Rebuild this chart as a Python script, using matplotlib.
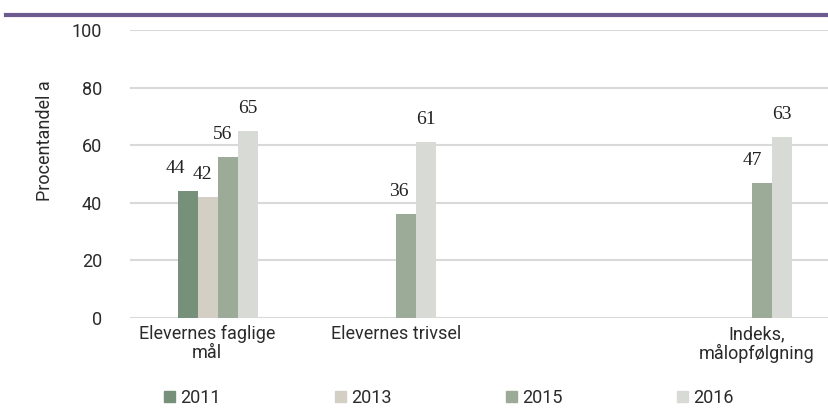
import numpy as np
import matplotlib.pyplot as plt
from matplotlib.patches import Patch
from matplotlib.transforms import ScaledTranslation

# data
categories = ['Elevernes faglige\nmål', 'Elevernes trivsel', '', 'Indeks,\nmålopfølgning']
years = ['2011', '2013', '2015', '2016']
v2011 = [44, None, None, None]
v2013 = [42, None, None, None]
v2015 = [56, 36, None, 47]
v2016 = [65, 61, None, 63]
series = [v2011, v2013, v2015, v2016]

colors = ['#76907a', '#d3cfc4', '#9cab97', '#d8dbd5']
# label nudges (pixels, left/right) to mimic hand-placed labels
nudge = {(0, 0): -13, (1, 0): -5, (2, 0): -5, (2, 1): -7, (2, 3): -10}
cat_shift = [-11, 0, 0, 5]

W, H = 829, 417
fig = plt.figure(figsize=(W / 100, H / 100), dpi=100)
ax = fig.add_axes([130 / W, (H - 318) / H, (W - 130) / W, 288 / H])

bw = 0.1124
x = np.arange(len(categories))
for i, (s, c) in enumerate(zip(series, colors)):
    for j, v in enumerate(s):
        if v is None:
            continue
        xc = x[j] + (i - 1.5) * bw
        ax.bar(xc, v, width=bw, color=c, zorder=3)
        ax.annotate(str(v), (xc, v), xytext=(nudge.get((i, j), 0), 18),
                    textcoords='offset pixels', ha='center', va='baseline',
                    fontsize=14, family='Liberation Serif', color='#222222')

ax.set_xlim(-0.494, (W - 218) / 178)
ax.set_ylim(0, 100)
ax.set_yticks(range(0, 101, 20))
ax.grid(axis='y', color='#d9d9d9', linewidth=1.5, zorder=0)
for sp in ax.spines.values():
    sp.set_visible(False)
ax.tick_params(axis='both', length=0, labelsize=13, colors='#2a2a2a')
ax.tick_params(axis='y', pad=20)
ax.tick_params(axis='x', pad=5)
ax.set_xticks(x)
ax.set_xticklabels(categories, family='Roboto', linespacing=1.05)
for t, dx in zip(ax.get_xticklabels(), cat_shift):
    t.set_transform(t.get_transform() + ScaledTranslation(dx / 100, 0, fig.dpi_scale_trans))
for t in ax.get_yticklabels():
    t.set_family('Roboto')

fig.text(45 / W, 1 - 141 / H, 'Procentandel a', rotation=90, ha='center', va='center',
         fontsize=13, family='Roboto', color='#2a2a2a')

# purple rule at top
fig.add_artist(plt.Line2D([6 / W, 1], [1 - 15 / H, 1 - 15 / H], color='#6b5b8e', linewidth=3))

handles = [Patch(color=c) for c in colors]
leg = fig.legend(handles, years, loc='center left', bbox_to_anchor=(164 / W, 1 - 398 / H),
                 ncol=4, frameon=False, prop={'family': 'Roboto', 'size': 13},
                 handlelength=0.62, handleheight=0.62, handletextpad=0.3,
                 columnspacing=6.3, borderpad=0, borderaxespad=0)
for t in leg.get_texts():
    t.set_color('#2a2a2a')

fig.savefig('out.png', dpi=100)
